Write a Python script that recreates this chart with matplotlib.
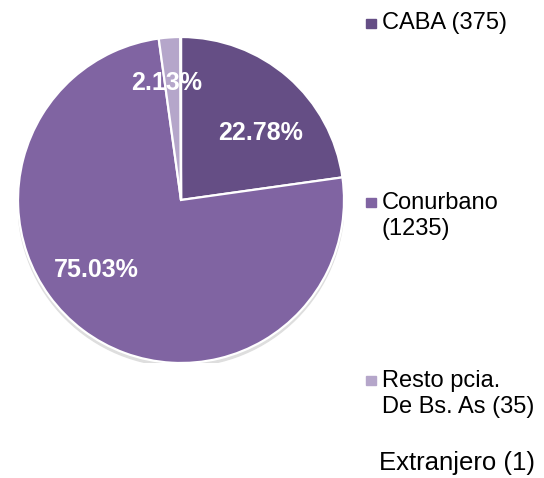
import matplotlib
matplotlib.use("Agg")
import matplotlib.pyplot as plt
from matplotlib.patches import Circle, Rectangle

# data
labels = ["CABA (375)", "Conurbano\n(1235)", "Resto pcia.\nDe Bs. As (35)", "Extranjero (1)"]
counts = [375, 1235, 35, 1]
colors = ["#654E85", "#8064A2", "#B5A6CA", "#FFFFFF"]

# label placement (pie units) tuned to the reference layout
pct_pos = [(0.49, 0.41), (-0.52, -0.43), (-0.09, 0.72), (0, 0)]
legend_y = [0.952, 0.548, 0.176, 0.031]
legend_x = [0.702, 0.702, 0.702, 0.697]
legend_size = [17, 17, 17, 18.5]

plt.rcParams["font.family"] = ["Liberation Sans", "DejaVu Sans"]

fig = plt.figure(figsize=(5.44, 4.78), dpi=100)
ax = fig.add_axes([0.0331, 0.2406, 0.5993, 0.682])


def fmt(p):
    return f"{p:.2f}%" if p > 1 else ""


# soft shadow under the pie
ax.add_patch(Circle((0.0, -0.022), 1.0, color="#dedede", zorder=0))

wedges, texts, autotexts = ax.pie(
    counts,
    colors=colors,
    startangle=90,
    counterclock=False,
    autopct=fmt,
    wedgeprops=dict(edgecolor="white", linewidth=1.6),
    textprops=dict(color="white", fontsize=18, fontweight="bold"),
)
for w in wedges:
    w.set_zorder(2)
for t, pos in zip(autotexts, pct_pos):
    t.set_position(pos)
    t.set_zorder(3)

ax.set_xlim(-1, 1)
ax.set_ylim(-1, 1)
ax.set_aspect("equal")
ax.axis("off")

# legend drawn by hand to copy the spacing
for lab, col, x, y, fs in zip(labels, colors, legend_x, legend_y, legend_size):
    n_lines = lab.count("\n") + 1
    top_line_y = y + (n_lines - 1) * 0.0293
    if col.upper() != "#FFFFFF":
        fig.patches.append(
            Rectangle((0.673, top_line_y - 0.011), 0.0175, 0.02,
                      transform=fig.transFigure, color=col, figure=fig)
        )
    fig.text(x, y, lab, fontsize=fs, va="center", ha="left",
             linespacing=1.2, color="black")

fig.savefig("out.png", dpi=100)
